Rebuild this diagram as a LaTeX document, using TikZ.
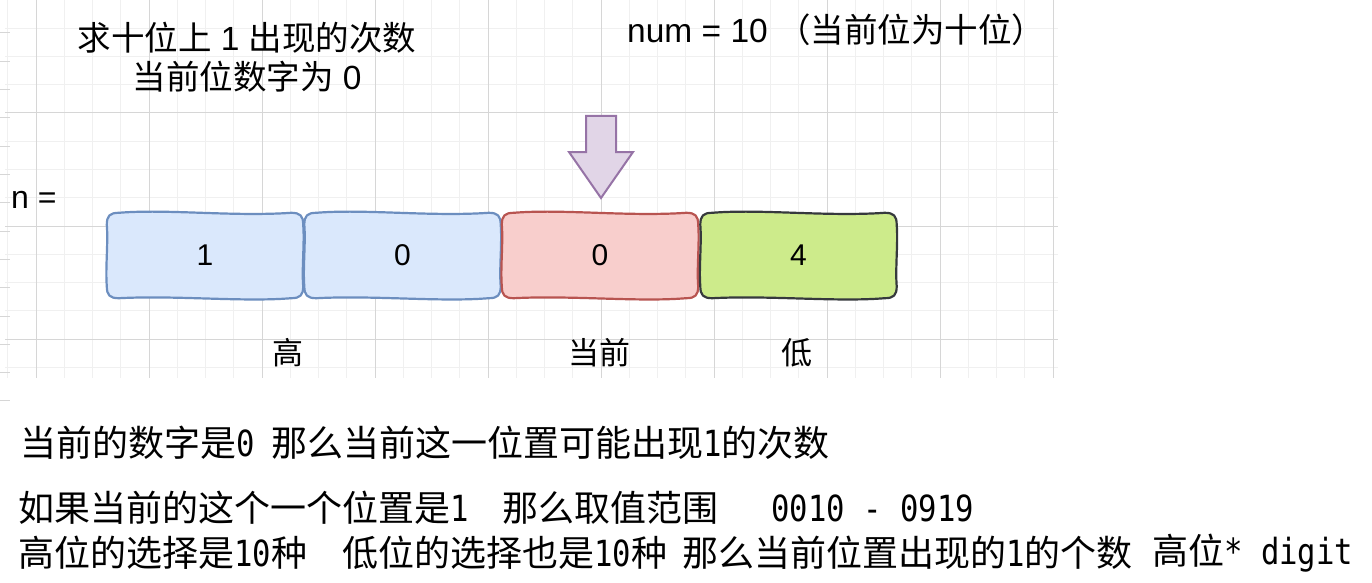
\documentclass[tikz,border=0pt]{standalone}
\usepackage{fontspec}
\setmainfont{Liberation Sans}
\newfontfamily\cjk{Noto Sans CJK SC}
\newfontfamily\hm[FakeStretch=0.85]{DejaVu Sans Mono}
\usetikzlibrary{calc}
\definecolor{gmin}{HTML}{F0F0F0}
\definecolor{gmaj}{HTML}{D6D6D6}
\definecolor{bfill}{HTML}{DAE8FC}
\definecolor{bdraw}{HTML}{6C8EBF}
\definecolor{rfill}{HTML}{F8CECC}
\definecolor{rdraw}{HTML}{B85450}
\definecolor{gfill}{HTML}{CDEB8B}
\definecolor{gdraw}{HTML}{36393D}
\definecolor{pfill}{HTML}{E1D5E7}
\definecolor{pdraw}{HTML}{9673A6}
\pgfdeclarelayer{bg}
\pgfsetlayers{bg,main}
\tikzset{
  minorline/.style={draw=gmin, line width=1pt},
  majorline/.style={draw=gmaj, line width=1pt},
  tickline/.style={draw=gmaj, line width=1pt},
  cell/.style={minimum width=196pt, minimum height=85pt, inner sep=0pt, font=\fontsize{30}{34}\selectfont},
  toptext/.style={font=\fontsize{33.5}{38}\selectfont, inner sep=0pt},
  poslabel/.style={font=\cjk\fontsize{31}{36}\selectfont, inner sep=0pt},
  bottext/.style={font=\cjk\fontsize{36}{40}\selectfont, inner sep=0pt, anchor=west},
  arrowshape/.style={fill=pfill, draw=pdraw, line width=2pt, line join=miter},
}
\newcommand\skbox[3]{%
 \draw[line width=2.2pt, draw=#3, fill=#2]
 ($(#1.north west)+(12,0)$)
 .. controls ($(#1.north west)+(60,-4)$) and ($(#1.north east)+(-70,4)$) .. ($(#1.north east)+(-12,0)$)
 .. controls ($(#1.north east)+(-3,0)$) and ($(#1.north east)+(0,3)$) .. ($(#1.north east)+(0,12)$)
 .. controls ($(#1.north east)+(1.5,30)$) and ($(#1.south east)+(-1.5,-30)$) .. ($(#1.south east)+(0,-12)$)
 .. controls ($(#1.south east)+(0,-3)$) and ($(#1.south east)+(-3,0)$) .. ($(#1.south east)+(-12,0)$)
 .. controls ($(#1.south east)+(-60,4)$) and ($(#1.south west)+(70,-3)$) .. ($(#1.south west)+(12,0)$)
 .. controls ($(#1.south west)+(3,0)$) and ($(#1.south west)+(0,-3)$) .. ($(#1.south west)+(0,-12)$)
 .. controls ($(#1.south west)+(-1.5,-30)$) and ($(#1.north west)+(1.5,30)$) .. ($(#1.north west)+(0,12)$)
 .. controls ($(#1.north west)+(0,3)$) and ($(#1.north west)+(3,0)$) .. cycle;
}
\begin{document}
\begin{tikzpicture}[x=1pt,y=-1pt]
\useasboundingbox (0,0) rectangle (1372,583);
\begin{pgfonlayer}{bg}
\fill[white] (0,0) rectangle (1372,583);
% grid
\foreach \i in {0,...,37} {\draw[minorline] ({7.75+28.25*\i},0) -- ({7.75+28.25*\i},378);}
\foreach \j in {0,...,13} {\draw[minorline] (5,{28.25*\j}) -- (1058,{28.25*\j});}
\foreach \i in {0,...,9} {\draw[majorline] ({36+113*\i},0) -- ({36+113*\i},378);}
\foreach \j in {0,...,3} {\draw[majorline] (5,{113*\j}) -- (1058,{113*\j});}
\foreach \j in {0,...,13} {\draw[tickline] (0,{33+28.3*\j}) -- (10,{33+28.3*\j});}
\end{pgfonlayer}
% digit cells
\node[cell] (d1) at (205,255.5) {1};
\node[cell] (d2) at (402.5,255.5) {0};
\node[cell] (d3) at (600,255.5) {0};
\node[cell] (d4) at (798.5,255.5) {4};
\begin{pgfonlayer}{bg}
\skbox{d1}{bfill}{bdraw}
\skbox{d2}{bfill}{bdraw}
\skbox{d3}{rfill}{rdraw}
\skbox{d4}{gfill}{gdraw}
\end{pgfonlayer}
% arrow
\draw[arrowshape] (586,116) -- (616,116) -- (616,152) -- (633,152) -- (601,198) -- (569,152) -- (586,152) -- cycle;
% top texts
\node[toptext] (t1) at (247,38) {{\cjk 求十位上} 1 {\cjk 出现的次数}};
\node[toptext] (t2) at (247,77) {{\cjk 当前位数字为} 0};
\node[toptext, anchor=west] (t3) at (627,30) {num = 10 {\cjk （当前位为十位）}};
\node[toptext, font=\fontsize{32}{38}\selectfont, anchor=west] (nlab) at (11,200) {n =};
% position labels
\node[poslabel] (hi) at (288,353) {高};
\node[poslabel] (cur) at (599,353) {当前};
\node[poslabel] (lo) at (797,353) {低};
% bottom explanation
\node[bottext] (l1a) at (20,443) {当前的数字是{\hm 0}};
\node[bottext] (l1b) at (271,443) {那么当前这一位置可能出现{\hm 1}的次数};
\node[bottext] (l2a) at (18,508) {如果当前的这个一个位置是{\hm 1}};
\node[bottext] (l2b) at (502,508) {那么取值范围};
\node[bottext] (l2c) at (771,508) {\hm 0010 - 0919};
\node[bottext] (l3a) at (18,553) {高位的选择是{\hm 10}种};
\node[bottext] (l3b) at (342,553) {低位的选择也是{\hm 10}种};
\node[bottext] (l3c) at (682,553) {那么当前位置出现的{\hm 1}的个数};
\node[bottext] (l3d) at (1152,553) {高位{\hm * digit}};
\end{tikzpicture}
\end{document}
